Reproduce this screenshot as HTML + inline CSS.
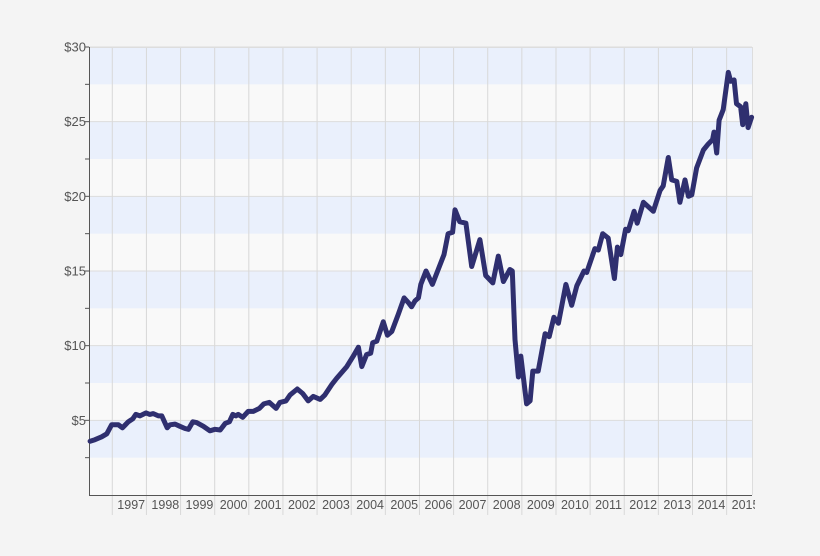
<!DOCTYPE html>
<html><head><meta charset="utf-8"><style>
html,body{margin:0;padding:0;background:#f4f4f4;}
svg{display:block;font-family:"Liberation Sans",Arial,sans-serif;}
</style></head><body>
<svg id="chart" width="820" height="556" viewBox="0 0 820 556" xmlns="http://www.w3.org/2000/svg">
<rect width="820" height="556" fill="#f4f4f4"/>
<g id="bands"></g><g id="grid"></g><g id="axes"></g><g id="series"></g>
</svg>
<script>
const dates=[1996.35,1996.49,1996.69,1996.84,1996.98,1997.18,1997.30,1997.47,1997.60,1997.69,1997.81,1997.99,1998.10,1998.20,1998.35,1998.45,1998.61,1998.69,1998.84,1998.98,1999.13,1999.23,1999.36,1999.47,1999.67,1999.86,2000.01,2000.16,2000.31,2000.43,2000.53,2000.62,2000.69,2000.82,2000.98,2001.13,2001.31,2001.44,2001.60,2001.80,2001.91,2002.09,2002.21,2002.42,2002.58,2002.74,2002.89,2003.09,2003.23,2003.43,2003.57,2003.72,2003.87,2004.06,2004.21,2004.31,2004.45,2004.57,2004.63,2004.75,2004.94,2005.06,2005.19,2005.38,2005.55,2005.67,2005.77,2005.87,2005.97,2006.04,2006.19,2006.38,2006.55,2006.72,2006.84,2006.97,2007.04,2007.18,2007.36,2007.53,2007.77,2007.94,2008.15,2008.31,2008.46,2008.65,2008.72,2008.80,2008.90,2008.97,2009.14,2009.24,2009.32,2009.48,2009.68,2009.80,2009.94,2010.07,2010.29,2010.46,2010.61,2010.82,2010.90,2011.14,2011.24,2011.37,2011.53,2011.71,2011.80,2011.90,2012.04,2012.12,2012.29,2012.38,2012.56,2012.85,2013.05,2013.14,2013.29,2013.39,2013.54,2013.63,2013.78,2013.88,2013.98,2014.12,2014.32,2014.46,2014.59,2014.63,2014.71,2014.78,2014.90,2015.05,2015.12,2015.22,2015.29,2015.41,2015.47,2015.56,2015.63,2015.73];
const prices=[3.6,3.7,3.9,4.1,4.7,4.7,4.5,4.9,5.1,5.4,5.3,5.5,5.4,5.45,5.3,5.3,4.5,4.7,4.75,4.6,4.45,4.4,4.9,4.85,4.6,4.3,4.4,4.35,4.8,4.9,5.4,5.3,5.4,5.2,5.6,5.6,5.8,6.1,6.2,5.8,6.2,6.3,6.7,7.1,6.8,6.3,6.6,6.4,6.7,7.4,7.8,8.2,8.6,9.3,9.9,8.6,9.4,9.5,10.2,10.3,11.6,10.7,10.95,12.1,13.2,12.9,12.6,13.0,13.2,14.1,15.0,14.1,15.1,16.1,17.5,17.6,19.1,18.3,18.2,15.3,17.1,14.7,14.2,16.0,14.3,15.1,15.0,10.4,7.9,9.3,6.1,6.3,8.3,8.3,10.8,10.6,11.9,11.5,14.1,12.7,14.0,15.0,14.9,16.5,16.4,17.5,17.2,14.5,16.6,16.1,17.8,17.7,19.0,18.2,19.6,19.0,20.4,20.7,22.6,21.1,21.0,19.6,21.1,20.0,20.1,21.9,23.1,23.5,23.8,24.3,22.9,25.1,25.8,28.3,27.7,27.8,26.2,26.0,24.8,26.2,24.6,25.3];
const yearLabels=["1997","1998","1999","2000","2001","2002","2003","2004","2005","2006","2007","2008","2009","2010","2011","2012","2013","2014","2015"];
const yTickValues=[5,10,15,20,25,30];
const yTickLabels=["$5","$10","$15","$20","$25","$30"];

const NS="http://www.w3.org/2000/svg";
const L=89,R=752,T=47,B=495,YMAX=30;
const xScale=t=>112.3+(t-1997)*34.13;
const yScale=v=>B-(v/YMAX)*(B-T);
function mk(tag,attrs,parent){const e=document.createElementNS(NS,tag);for(const k in attrs)e.setAttribute(k,attrs[k]);parent.appendChild(e);return e;}
const bands=document.getElementById('bands'),grid=document.getElementById('grid'),axes=document.getElementById('axes'),series=document.getElementById('series');
mk('rect',{x:L,y:T,width:R-L,height:B-T,fill:'#f9f9f9'},bands);
for(let v=0;v<YMAX;v+=2.5){
  const idx=Math.round(v/2.5);
  if(idx%2===1){
    const r=mk('rect',{x:L,y:yScale(v+2.5),width:R-L,height:yScale(v)-yScale(v+2.5),fill:'#eaf0fc'},bands);
    
    
  }
}
yTickValues.forEach((v,i)=>{
  const g=mk('line',{x1:L,x2:R,y1:yScale(v),y2:yScale(v),stroke:'#dddddd','stroke-width':1},grid);
  
  
  const t=mk('text',{x:86,y:yScale(v)+4.5,'text-anchor':'end','font-size':13,fill:'#555'},axes);
  t.textContent=yTickLabels[i];
  
  
});
for(let v=2.5;v<=YMAX;v+=2.5){mk('line',{x1:L-4,x2:L,y1:yScale(v),y2:yScale(v),stroke:'#555','stroke-width':1},axes);}
yearLabels.forEach(y=>{
  const x=xScale(+y);
  const g=mk('line',{x1:x,x2:x,y1:T,y2:515,stroke:'#d8d8d8','stroke-width':1},grid);
  
  
  const t=mk('text',{x:x+5,y:509,'font-size':12.5,fill:'#555'},axes);
  t.textContent=y;
  
  
});
mk('rect',{x:R+3,y:0,width:820-R,height:556,fill:'#f4f4f4'},axes);
mk('line',{x1:R+0.5,x2:R+0.5,y1:T,y2:B,stroke:'#dddddd'},axes);
mk('line',{x1:L,x2:R,y1:T+0.5,y2:T+0.5,stroke:'#dddddd'},axes);
const ya=mk('line',{x1:L+0.5,x2:L+0.5,y1:T,y2:B,stroke:'#555','stroke-width':1},axes);


const xa=mk('line',{x1:L,x2:R,y1:B+0.5,y2:B+0.5,stroke:'#555','stroke-width':1},axes);


const d=dates.map((t,i)=>(i?'L':'M')+xScale(t).toFixed(1)+','+yScale(prices[i]).toFixed(1)).join(' ');
const p=mk('path',{d:d,fill:'none',stroke:'#2f2f6f','stroke-width':5,'stroke-linejoin':'round','stroke-linecap':'round'},series);


</script>
</body></html>
